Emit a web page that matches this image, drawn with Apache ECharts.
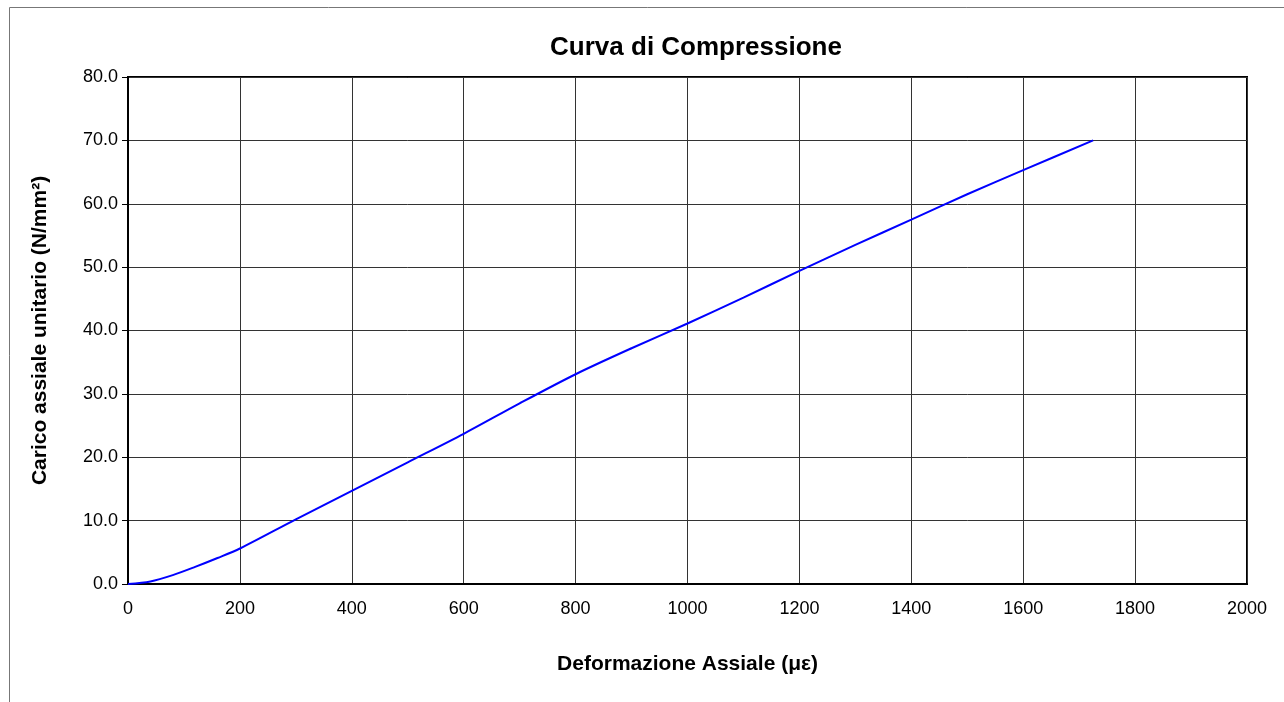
<!DOCTYPE html>
<html>
<head>
<meta charset="utf-8">
<script src="https://cdn.jsdelivr.net/npm/echarts@6/dist/echarts.min.js"></script>
<style>html,body{margin:0;padding:0;background:#fff;}#c{width:1284px;height:702px;}</style>
</head>
<body>
<div id="c"></div>
<script>
// Data
const strain = [0, 40, 80, 120, 160, 200, 300, 400, 500, 600, 700, 800, 900, 1000, 1100, 1200, 1300, 1400, 1500, 1600, 1725];
const stress = [0, 0.4, 1.4, 2.7, 4.1, 5.6, 10.2, 14.7, 19.2, 23.7, 28.5, 33.1, 37.2, 41.1, 45.2, 49.4, 53.5, 57.5, 61.5, 65.3, 70.0];
const titleText = 'Curva di Compressione';
const xName = 'Deformazione Assiale (\u03bc\u03b5)';
const yName = 'Carico assiale unitario (N/mm\u00b2)';

const chart = echarts.init(document.getElementById('c'), null, {renderer: 'canvas'});
const FONT = 'Liberation Sans, Arial, sans-serif';
chart.setOption({
  animation: false,
  backgroundColor: '#fff',
  graphic: [{
    type: 'rect', left: 7, top: 5, silent: true,
    shape: {width: 1300, height: 720},
    style: {fill: 'none', stroke: '#777', lineWidth: 1}
  }],
  title: {
    text: titleText, left: 691, top: 30, textAlign: 'center',
    textStyle: {fontFamily: FONT, fontSize: 26, fontWeight: 'bold', color: '#000'}
  },
  grid: {left: 128, right: 37, top: 77, bottom: 118, show: true, borderColor: '#000', borderWidth: 2, containLabel: false},
  xAxis: {
    type: 'value', min: 0, max: 2000, interval: 200,
    name: xName, nameLocation: 'middle', nameGap: 70,
    nameTextStyle: {fontFamily: FONT, fontSize: 21, fontWeight: 'bold', color: '#000'},
    axisLine: {show: true, onZero: false, lineStyle: {color: '#000', width: 2}},
    axisTick: {show: false},
    axisLabel: {fontFamily: FONT, fontSize: 18, color: '#000', margin: 16, formatter: v => String(v)},
    splitLine: {show: true, lineStyle: {color: '#333', width: 1}}
  },
  yAxis: {
    type: 'value', min: 0, max: 80, interval: 10,
    name: yName, nameLocation: 'middle', nameGap: 77,
    nameTextStyle: {fontFamily: FONT, fontSize: 21, fontWeight: 'bold', color: '#000'},
    axisLine: {show: true, lineStyle: {color: '#000', width: 2}},
    axisTick: {show: true, length: 6, lineStyle: {color: '#000', width: 1}},
    axisLabel: {fontFamily: FONT, fontSize: 18, color: '#000', margin: 10, formatter: v => v.toFixed(1)},
    splitLine: {show: true, lineStyle: {color: '#333', width: 1}}
  },
  series: [{
    type: 'line', data: strain.map((x, i) => [x, stress[i]]),
    showSymbol: false, smooth: 0.3,
    lineStyle: {color: '#0000ff', width: 2}
  }]
});
</script>
</body>
</html>
